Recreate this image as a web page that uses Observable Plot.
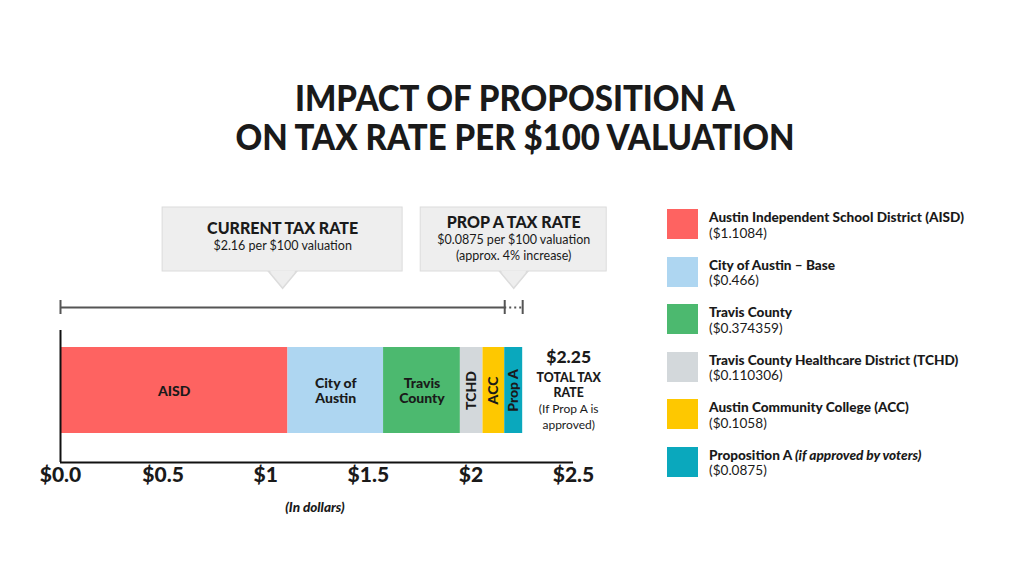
<!DOCTYPE html>
<html>
<head>
<meta charset="utf-8">
<script src="https://cdn.jsdelivr.net/npm/d3@7"></script>
<script src="https://cdn.jsdelivr.net/npm/@observablehq/plot@0.6"></script>
<style>
  html, body { margin: 0; padding: 0; background: #fff; }
  body { width: 1024px; height: 576px; position: relative; overflow: hidden; font-family: Lato, "DejaVu Sans", sans-serif; color: #1a1a1a; }
  #title { position: absolute; left: 0; width: 1030px; top: 77px; text-align: center; font-size: 33px; line-height: 35px; font-weight: 900; transform-origin: 50% 0; transform: scale(1, 1.12); }
  #chart { position: absolute; left: 0; top: 190px; }
  #legend { position: absolute; left: 667px; top: 209px; }
  .row { position: relative; height: 47.5px; }
  .sw { position: absolute; left: 0; top: 0; width: 31px; height: 30px; }
  .lt { position: absolute; left: 42px; top: 1px; font-size: 13.6px; line-height: 15.5px; white-space: nowrap; }
  .lt b { font-weight: 900; }
</style>
</head>
<body>
<div id="title"></div>
<div id="chart"></div>
<div id="legend"></div>
<script>
// ---- data ----
const titleLines = ["IMPACT OF PROPOSITION A", "ON TAX RATE PER $100 VALUATION"];
const shortNames = ["AISD", "City of\nAustin", "Travis\nCounty", "TCHD", "ACC", "Prop A"];
const fullNames = ["Austin Independent School District (AISD)", "City of Austin – Base", "Travis County", "Travis County Healthcare District (TCHD)", "Austin Community College (ACC)", "Proposition A"];
const nameNotes = ["", "", "", "", "", "(if approved by voters)"];
const rates = [1.1084, 0.466, 0.374359, 0.110306, 0.1058, 0.0875];
const rotatedLabel = [false, false, false, true, true, true];
const colors = ["#fe6361", "#aed6f1", "#4cb96f", "#d3d8db", "#fec800", "#0aa8bd"];
const xTicks = [0, 0.5, 1, 1.5, 2, 2.5];
const xTickLabels = ["$0.0", "$0.5", "$1", "$1.5", "$2", "$2.5"];
const xDomain = [0, 2.5];
const axisCaption = "(In dollars)";
const totalLines = ["TOTAL TAX", "RATE"];
const totalNote = ["(If Prop A is", "approved)"];

// ---- derived ----
const propA = rates[rates.length - 1];
const total = d3.sum(rates);
const current = total - propA;
const ends = d3.cumsum(rates);
const segs = rates.map((v, i) => ({
  name: shortNames[i], x1: ends[i] - v, x2: ends[i], mid: ends[i] - v / 2, rot: rotatedLabel[i]
}));
const callouts = [
  { title: "CURRENT TAX RATE", lines: [`$${current.toFixed(2)} per $100 valuation`], from: 0, to: current },
  { title: "PROP A TAX RATE", lines: [`$${propA} per $100 valuation`, `(approx. ${Math.round(propA / current * 100)}% increase)`], from: current, to: total }
].map(d => ({ ...d, mid: (d.from + d.to) / 2 }));

// ---- title ----
document.getElementById("title").innerHTML = titleLines.join("<br>");

// ---- layout (svg pixels) ----
const L = { boxTop: 17, boxBot: 81, bracket: 117, axisTop: 140, barTop: 157, barBot: 243, base: 272, caption: 317 };
const boxHalf = [120, 93];
const boxTitleY = [38, 32];

const downTri = {
  draw(ctx, size) {
    const r = Math.sqrt(size / Math.PI);
    ctx.moveTo(-r, 0); ctx.lineTo(r, 0); ctx.lineTo(0, r * 1.2); ctx.closePath();
  }
};

const boxFill = "#eeeeee", boxStroke = "#dcdcdc", ink = "#1a1a1a";
const marks = [];
callouts.forEach((c, i) => {
  marks.push(Plot.dot([c], { x: "mid", y: () => L.boxBot, symbol: downTri, r: 14, fill: boxFill, stroke: boxStroke }));
  marks.push(Plot.rect([c], { x1: "mid", x2: "mid", y1: () => L.boxTop, y2: () => L.boxBot, insetLeft: -boxHalf[i], insetRight: -boxHalf[i], fill: boxFill, stroke: boxStroke }));
  marks.push(Plot.dot([c], { x: "mid", y: () => L.boxBot, symbol: downTri, r: 13, fill: boxFill, dy: -1 }));
  marks.push(Plot.text([c], { x: "mid", y: () => boxTitleY[i], text: "title", fontSize: 16, fontWeight: 900, fill: ink }));
  c.lines.forEach((ln, j) => {
    marks.push(Plot.text([ln], { x: () => c.mid, y: () => boxTitleY[i] + 17 + j * 16, text: d => d, fontSize: 12.5, fill: ink }));
  });
});

// bracket
marks.push(Plot.ruleY([L.bracket], { x1: 0, x2: current, stroke: "#555", strokeWidth: 2 }));
marks.push(Plot.ruleY([L.bracket], { x1: current, x2: total, stroke: "#555", strokeWidth: 2, strokeDasharray: "2,3" }));
marks.push(Plot.ruleX([0, current, total], { y1: L.bracket - 7, y2: L.bracket + 7, stroke: "#555", strokeWidth: 2 }));

// bar
marks.push(Plot.rect(segs, { x1: "x1", x2: "x2", y1: () => L.barTop, y2: () => L.barBot, fill: "name" }));
marks.push(Plot.text(segs.filter(d => !d.rot), { x: "mid", y: () => (L.barTop + L.barBot) / 2, text: "name", fontSize: 14, fontWeight: 900, fill: ink, lineHeight: 1.12 }));
marks.push(Plot.text(segs.filter(d => d.rot), { x: "mid", y: () => (L.barTop + L.barBot) / 2, text: "name", rotate: -90, fontSize: 14, fontWeight: 900, fill: ink }));

// axes lines
marks.push(Plot.ruleX([0], { y1: L.axisTop, y2: L.base, stroke: "#111", strokeWidth: 2 }));
marks.push(Plot.ruleY([L.base], { x1: xDomain[0], x2: xDomain[1], stroke: "#111", strokeWidth: 2 }));
marks.push(Plot.axisX({ ticks: xTicks, tickFormat: d => xTickLabels[xTicks.indexOf(d)], tickSize: 0, tickPadding: 5, fontSize: 21, fontWeight: 900, fill: ink, label: null }));
marks.push(Plot.text([axisCaption], { x: () => 1.24, y: () => L.caption, text: d => d, fontSize: 13.5, fontWeight: 900, fontStyle: "italic", fill: ink }));

// total label
marks.push(Plot.text([`$${total.toFixed(2)}`], { x: () => total, dx: 46, y: () => 167, text: d => d, fontSize: 17.5, fontWeight: 900, fill: ink }));
marks.push(Plot.text(totalLines, { x: () => total, dx: 46, y: (d, i) => 188 + i * 15, text: d => d, fontSize: 12.3, fontWeight: 900, fill: ink }));
marks.push(Plot.text(totalNote, { x: () => total, dx: 46, y: (d, i) => 219 + i * 16, text: d => d, fontSize: 12, fill: ink }));

const chart = Plot.plot({
  width: 640, height: 340,
  marginLeft: 60, marginRight: 67, marginTop: 0, marginBottom: 68,
  x: { domain: xDomain, label: null },
  y: { domain: [0, 272], range: [0, 272], axis: null },
  color: { domain: shortNames, range: colors },
  style: { fontFamily: "Lato, 'DejaVu Sans', sans-serif", background: "transparent", overflow: "visible" },
  marks
});
document.getElementById("chart").appendChild(chart);

// ---- legend ----
const legend = d3.select("#legend");
fullNames.forEach((n, i) => {
  const row = legend.append("div").attr("class", "row");
  row.append("div").attr("class", "sw").style("background", colors[i]);
  const note = nameNotes[i] ? ` <i>${nameNotes[i]}</i>` : "";
  row.append("div").attr("class", "lt").html(`<b>${n}${note}</b><br>($${rates[i]})`);
});
</script>
</body>
</html>
